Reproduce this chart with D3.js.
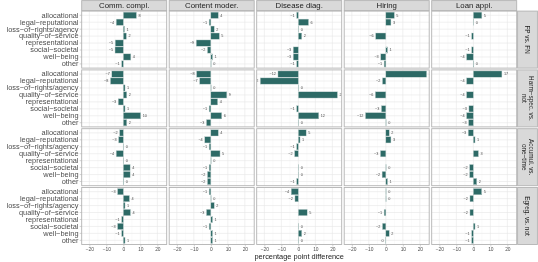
<!DOCTYPE html>
<html><head><meta charset="utf-8">
<script src="https://cdn.jsdelivr.net/npm/d3@7"></script>
<style>body{margin:0;background:#fff} svg{display:block;will-change:transform;transform:translateZ(0)}</style>
</head><body><svg id="c" width="538" height="262"></svg>
<script>
// ---------- data ----------
const categories = ["allocational","legal−reputational","loss−of−rights/agency","quality−of−service","representational","social−societal","well−being","other"];
const columns = ["Comm. compl.","Content moder.","Disease diag.","Hiring","Loan appl."];
const rowLabels = [["FP vs. FN"],["Harm−spec. vs.","not"],["Accumul. vs.","one−time"],["Egreg. vs. not"]];
const xTicks = [-20,-10,0,10,20];
const xMinor = [-15,-5,5,15];
// each: one array per column (Comm, Content, Disease, Hiring, Loan), values in category order
const fpVsFn = [
  [7.7,-4.2,0.7,1.8,-4.8,-4.9,4.4,-1],
  [4.4,-1,2,5,-8.6,-2,1,0.2],
  [-1,6,0.2,2,null,-3,-3,-1],
  [5,3,null,-6,null,1,-3,-1],
  [5,0.2,null,-1,null,-1,-4,0.3]
];
const harmSpecVsNot = [
  [-6.8,-7.6,1,2,-3,1,10.2,2],
  [-8.4,-6.6,0.2,9.4,4,-1,6.4,-2.6],
  [-12,-22.4,0.2,23,null,-1,12,0.2],
  [24,-2,null,-6.2,null,-2.6,-12,0.2],
  [16.8,-4,null,-4,null,-2.6,-4,-2.8]
];
const accumulVsOneTime = [
  [-2.2,-2.8,0.2,-4.2,0.2,4,4,0.3],
  [4.4,-3.6,-1,5.4,0.2,-1,-2,-2],
  [4.6,1,-1,-2.2,null,0.2,0.2,-1],
  [2,3,null,-3.2,null,0.2,-2.2,1],
  [-3,1,null,3,null,-2.2,-2.2,2]
];
const egregVsNot = [
  [-3.4,3.6,1,4.2,-1,-3.4,-1,1],
  [-1,0.2,2,-2.6,1,-1,1,1],
  [-4.2,-2,null,5.2,null,0.2,2,0.2],
  [0.2,0.2,null,-1,null,-2,2,-0.2],
  [4.9,-2,null,-2,null,1,-1,-1]
];
const facetRows = [fpVsFn, harmSpecVsNot, accumulVsOneTime, egregVsNot];

// ---------- layout ----------
const panelLeft0 = 81.7, colStep = 87.5, panelW = 85;
const rowTop0 = 11.1, rowStep = 58.8, panelH = 57;
const stripH = 10;
const barFill = "#2d6a66";
const font = "'Liberation Sans', Arial, Helvetica, sans-serif";
const minus = s => s.replace(/-/g, "−");
const fmt = v => { const r = Math.round(v); return r < 0 ? "−" + Math.abs(r) : String(Math.abs(r)); };

const svg = d3.select("#c");
svg.append("rect").attr("width", 538).attr("height", 262).attr("fill", "#fff");
const defs = svg.append("defs");

facetRows.forEach((rowData, ri) => {
  const top = rowTop0 + ri * rowStep;
  const y = d3.scaleBand().domain(categories).range([top, top + panelH]).paddingInner(0).paddingOuter(0.1);
  rowData.forEach((vals, ci) => {
    const left = panelLeft0 + ci * colStep;
    const x = d3.scaleLinear().domain([-24.5, 25.5]).range([left, left + panelW]);
    const clipId = `clip-${ri}-${ci}`;
    defs.append("clipPath").attr("id", clipId).append("rect")
      .attr("x", left).attr("y", top).attr("width", panelW).attr("height", panelH);
    const g = svg.append("g");
    g.append("rect").attr("x", left).attr("y", top).attr("width", panelW).attr("height", panelH).attr("fill", "#fff");
    // grid
    g.selectAll(".vmin").data(xMinor).enter().append("line")
      .attr("x1", d => x(d)).attr("x2", d => x(d)).attr("y1", top).attr("y2", top + panelH)
      .attr("stroke", "#f2f2f2").attr("stroke-width", 0.4);
    g.selectAll(".vmaj").data(xTicks).enter().append("line")
      .attr("x1", d => x(d)).attr("x2", d => x(d)).attr("y1", top).attr("y2", top + panelH)
      .attr("stroke", "#e6e6e6").attr("stroke-width", 0.6);
    g.selectAll(".hmaj").data(categories).enter().append("line")
      .attr("x1", left).attr("x2", left + panelW)
      .attr("y1", d => y(d) + y.bandwidth() / 2).attr("y2", d => y(d) + y.bandwidth() / 2)
      .attr("stroke", "#e6e6e6").attr("stroke-width", 0.6);
    const data = categories.map((c, i) => ({c, v: vals[i]})).filter(d => d.v !== null);
    const cg = g.append("g").attr("clip-path", `url(#${clipId})`);
    const bh = y.bandwidth() * 0.9;
    cg.selectAll("rect.bar").data(data).enter().append("rect")
      .attr("x", d => Math.min(x(0), x(d.v)))
      .attr("width", d => Math.abs(x(d.v) - x(0)))
      .attr("y", d => y(d.c) + (y.bandwidth() - bh) / 2)
      .attr("height", bh)
      .attr("fill", barFill).attr("stroke", "#c9d6d5").attr("stroke-width", 0.4);
    cg.selectAll("text.lab").data(data).enter().append("text")
      .attr("x", d => d.v >= 0 ? x(d.v) + 2 : x(d.v) - 2)
      .attr("y", d => y(d.c) + y.bandwidth() / 2)
      .attr("dy", "0.35em")
      .attr("text-anchor", d => d.v >= 0 ? "start" : "end")
      .attr("font-family", font).attr("font-size", 3.8).attr("fill", "#4d4d4d")
      .text(d => fmt(d.v));
    // border
    g.append("rect").attr("x", left).attr("y", top).attr("width", panelW).attr("height", panelH)
      .attr("fill", "none").attr("stroke", "#b3b3b3").attr("stroke-width", 0.9);

    // top strips
    if (ri === 0) {
      svg.append("rect").attr("x", left).attr("y", 0.6).attr("width", panelW).attr("height", stripH)
        .attr("fill", "#d9d9d9").attr("stroke", "#b3b3b3").attr("stroke-width", 0.9);
      svg.append("text").attr("x", left + panelW / 2).attr("y", 0.6 + stripH / 2).attr("dy", "0.35em")
        .attr("text-anchor", "middle").attr("font-family", font).attr("font-size", 7.8).attr("fill", "#1a1a1a")
        .text(columns[ci]);
    }
    // bottom axis
    if (ri === facetRows.length - 1) {
      const ax = d3.axisBottom(x).tickValues(xTicks).tickSize(2).tickPadding(1.5).tickFormat(d => minus(String(d)));
      const a = svg.append("g").attr("transform", `translate(0,${top + panelH})`).call(ax);
      a.select(".domain").remove();
      a.selectAll("line").attr("stroke", "#b3b3b3").attr("stroke-width", 0.6);
      a.selectAll("text").attr("font-family", font).attr("font-size", 4.9).attr("fill", "#4d4d4d");
    }
    // left axis
    if (ci === 0) {
      const ay = d3.axisLeft(y).tickSize(2).tickPadding(1.2);
      const a = svg.append("g").attr("transform", `translate(${left},0)`).call(ay);
      a.select(".domain").remove();
      a.selectAll("line").attr("stroke", "#b3b3b3").attr("stroke-width", 0.6);
      a.selectAll("text").attr("font-family", font).attr("font-size", 7.4).attr("fill", "#4d4d4d");
    }
  });
  // right strip
  const sx = panelLeft0 + 4 * colStep + panelW + 0.9;
  const sw = 537.4 - sx;
  svg.append("rect").attr("x", sx).attr("y", top).attr("width", sw).attr("height", panelH)
    .attr("fill", "#d9d9d9").attr("stroke", "#b3b3b3").attr("stroke-width", 0.9);
  const lines = rowLabels[ri];
  const t = svg.append("text")
    .attr("transform", `translate(${sx + sw / 2},${top + panelH / 2}) rotate(90)`)
    .attr("text-anchor", "middle").attr("font-family", font).attr("font-size", 6.4).attr("fill", "#1a1a1a");
  lines.forEach((ln, i) => {
    t.append("tspan").attr("x", 0).attr("y", (i - (lines.length - 1) / 2) * 7.2).attr("dy", "0.35em").text(ln);
  });
});

// axis title
svg.append("text").attr("x", panelLeft0 + (4 * colStep + panelW) / 2).attr("y", 256.5)
  .attr("dy", "0.35em").attr("text-anchor", "middle")
  .attr("font-family", font).attr("font-size", 7.4).attr("fill", "#1a1a1a")
  .text("percentage point difference");
</script>
</body></html>
